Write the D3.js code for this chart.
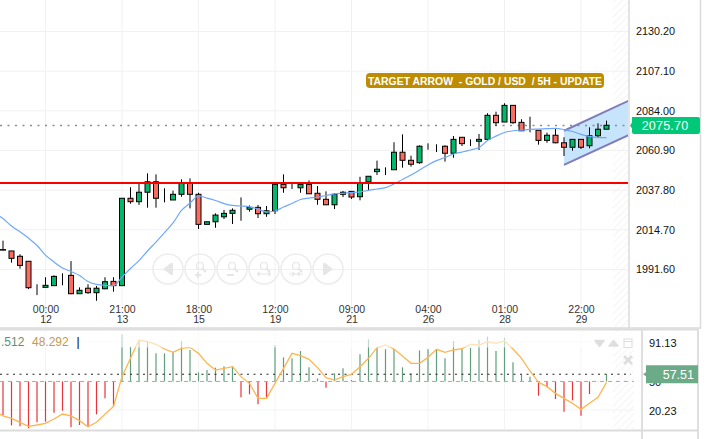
<!DOCTYPE html>
<html>
<head>
<meta charset="utf-8">
<script src="https://cdn.jsdelivr.net/npm/d3@7"></script>
<style>
    html, body { margin: 0; padding: 0; background: #fff; overflow: hidden; }
    svg { display: block; font-family: "Liberation Sans", Arial, sans-serif; }
    .domain, .tick line { display: none; }
</style>
</head>
<body>
<div id="chart"></div>
<script>
// candles, one entry per 5H bar
const opens = [2002.6,2002.1,1999.0,1996.1,1981.9,1980.9,1981.9,1988.1,1987.9,1977.2,1980.4,1977.8,1980.1,1984.4,1981.9,2032.8,2030.8,2036.3,2042.4,2032.4,2031.8,2035.1,2041.5,2035.1,2017.6,2019.1,2022.0,2024.0,2026.4,2026.4,2027.5,2023.8,2025.5,2040.9,2038.9,2038.9,2040.9,2035.7,2032.2,2029.0,2035.1,2036.8,2033.7,2042.3,2048.3,2049.7,2049.4,2059.6,2054.9,2053.5,2063.6,2063.6,2063.1,2059.0,2068.3,2064.8,2066.0,2067.1,2081.1,2077.2,2086.9,2077.0,2072.5,2072.4,2066.5,2069.5,2065.1,2062.5,2067.1,2063.4,2069.2,2073.0];
const highs = [2008.1,2002.1,2000.2,1996.1,1982.7,1986.8,1987.9,1989.1,1996.2,1980.9,1982.7,1981.7,1986.8,1986.8,2032.8,2039.2,2041.5,2047.3,2046.7,2038.6,2037.2,2043.8,2044.4,2036.0,2019.1,2024.0,2026.0,2026.9,2033.3,2028.6,2028.9,2028.3,2040.9,2046.7,2041.5,2041.5,2043.2,2039.9,2036.8,2035.7,2037.0,2036.8,2045.3,2045.6,2054.7,2050.8,2065.4,2070.0,2057.6,2063.6,2064.8,2064.2,2063.6,2069.0,2068.3,2067.1,2070.2,2082.3,2083.2,2088.1,2086.9,2078.8,2080.3,2072.4,2071.0,2073.5,2068.3,2067.1,2067.1,2074.1,2076.4,2078.0];
const lows = [2002.6,1995.3,1991.8,1979.9,1976.4,1980.9,1981.9,1982.1,1976.9,1977.2,1977.2,1973.1,1979.8,1978.4,1981.9,2029.6,2028.9,2027.3,2027.3,2030.4,2031.8,2033.7,2026.9,2014.9,2017.6,2015.6,2020.7,2017.8,2019.7,2025.0,2021.3,2022.0,2023.6,2036.0,2038.2,2036.0,2035.4,2029.0,2029.0,2026.5,2033.5,2032.4,2031.6,2037.0,2046.3,2046.3,2049.4,2050.6,2051.2,2052.9,2061.1,2059.7,2054.1,2056.4,2063.2,2063.2,2060.9,2066.1,2075.0,2077.2,2076.2,2072.1,2071.2,2064.0,2065.1,2064.8,2057.4,2060.5,2061.5,2061.9,2068.1,2073.0];
const closes = [2002.9,1997.8,1993.7,1980.7,1981.9,1982.1,1987.3,1988.1,1977.2,1979.2,1977.8,1980.4,1984.2,1981.9,2032.8,2030.8,2036.3,2042.4,2032.8,2032.4,2035.1,2041.5,2035.1,2017.6,2019.1,2023.0,2024.0,2025.8,2026.4,2027.5,2023.8,2025.5,2040.9,2038.9,2038.9,2040.9,2035.4,2032.2,2029.0,2035.1,2036.3,2033.5,2041.5,2045.6,2049.7,2049.7,2059.6,2054.9,2052.6,2063.1,2063.6,2063.6,2059.0,2067.1,2064.6,2064.8,2067.1,2081.1,2076.8,2086.9,2076.8,2072.1,2072.5,2066.5,2069.5,2065.1,2062.5,2067.1,2062.5,2069.2,2073.0,2075.3];
// moving average, first value belongs to the bar just left of the window
const maValues = [2024.2,2021.0,2016.6,2013.3,2009.6,2005.3,1999.7,1995.7,1992.2,1990.1,1987.8,1984.3,1982.6,1982.1,1981.9,1986.9,1991.9,1996.5,2002.1,2007.3,2012.8,2018.4,2025.7,2030.0,2034.1,2032.9,2031.5,2029.7,2028.6,2028.3,2027.8,2026.5,2024.8,2025.4,2027.7,2029.7,2032.1,2032.9,2033.4,2034.4,2035.3,2035.7,2036.1,2036.5,2037.4,2038.2,2039.0,2041.1,2043.7,2046.3,2049.2,2052.2,2054.7,2056.5,2058.6,2059.7,2060.9,2062.3,2066.4,2069.0,2071.1,2072.1,2072.5,2072.9,2073.1,2073.3,2073.5,2072.8,2071.7,2070.0,2068.8,2068.1,2068.1];
// lower panel
const histValues = [15.0,4.2,3.2,1.1,7.4,8.0,17.4,19.5,2.2,4.6,2.8,15.7,32.4,24.0,99.1,86.3,93.2,91.5,79.3,79.3,81.0,92.2,82.8,59.5,61.9,64.4,65.8,65.8,33.4,36.6,26.1,33.1,88.0,75.1,74.1,81.7,64.7,53.2,43.5,58.5,63.7,51.5,78.3,93.9,85.2,83.5,83.8,64.7,58.5,82.4,83.5,82.8,74.1,92.2,84.5,85.2,93.2,96.7,81.7,95.7,69.9,56.7,55.0,35.2,43.9,31.7,18.5,30.3,14.3,36.9,49.8,57.51];
const signalValues = [19.2,14.0,11.5,7.4,3.2,4.6,6.3,10.8,16.0,14.0,9.1,2.8,7.4,15.7,24.0,55.0,74.1,93.2,91.5,88.7,83.8,80.4,84.5,85.6,79.3,68.9,61.9,63.7,65.4,55.0,48.0,32.4,32.4,48.0,63.7,79.3,76.9,73.1,64.4,53.9,51.5,55.0,57.4,65.4,74.1,85.2,88.0,83.8,76.5,68.9,68.9,75.1,83.5,80.4,82.8,84.2,88.7,88.0,91.5,89.7,92.2,83.8,74.1,60.9,49.1,44.6,37.6,32.4,27.2,20.9,27.2,33.4,49.1];

const priceTicks = [2130.20,2107.10,2084.00,2060.90,2037.80,2014.70,1991.60];
const lowerTicks = [91.13,50,20.23];
const tickBars = [5,14,23,32,41,50,59,68];
const tickHours = ["00:00","21:00","18:00","12:00","09:00","04:00","01:00","22:00"];
const tickDays = ["12","13","15","19","21","26","28","29"];
const supportPrice = 2041.7;
const lastLinePrice = 2075.2;
const lastPriceLabel = "2075.70";
const lastLower = 57.51;
// channel drawn on the chart: bar index + price
const channelBars = [66,73.6];
const channelUpper = [2072.1,2089.6];
const channelLower = [2052.2,2069.6];

const width = 727, height = 439;
const svg = d3.select("#chart").append("svg").attr("width", width).attr("height", height);

const x = d3.scaleLinear().domain([0,71]).range([3,606.5]);
const y = d3.scaleLinear().domain([2130.2,1991.6]).range([31,269]);
const yLow = d3.scaleLinear().domain([91.13,20.23]).range([342,410]);

const defs = svg.append("defs");
const hatch = defs.append("pattern").attr("id","hatch").attr("width",5).attr("height",5)
    .attr("patternUnits","userSpaceOnUse").attr("patternTransform","rotate(45)");
hatch.append("line").attr("x1",0).attr("y1",0).attr("x2",0).attr("y2",5).attr("stroke","#f5f5f5").attr("stroke-width",2);
defs.append("clipPath").attr("id","topClip").append("rect").attr("width",628).attr("height",327);
defs.append("clipPath").attr("id","lowClip").append("rect").attr("y",330).attr("width",634).attr("height",99);

const mainG = svg.append("g").attr("clip-path","url(#topClip)");
const lowG = svg.append("g").attr("clip-path","url(#lowClip)");

// hatched future zone
mainG.append("rect").attr("x",613).attr("y",0).attr("width",16).attr("height",327).attr("fill","url(#hatch)");
lowG.append("rect").attr("x",613).attr("y",330).attr("width",21).attr("height",99).attr("fill","url(#hatch)");

// grid
mainG.selectAll(".gy").data(priceTicks).join("line")
    .attr("x1",0).attr("x2",628).attr("y1",d => y(d)+0.5).attr("y2",d => y(d)+0.5)
    .attr("stroke","#f1f1f1").attr("stroke-width",1);
mainG.selectAll(".gx").data(tickBars).join("line")
    .attr("x1",d => x(d)).attr("x2",d => x(d)).attr("y1",0).attr("y2",327)
    .attr("stroke","#f1f1f1").attr("stroke-width",1);
lowG.selectAll(".gx").data(tickBars).join("line")
    .attr("x1",d => x(d)).attr("x2",d => x(d)).attr("y1",330).attr("y2",429)
    .attr("stroke","#f3f3f3").attr("stroke-width",1);
lowG.selectAll(".gy").data([91.13,20.23]).join("line")
    .attr("x1",0).attr("x2",634).attr("y1",d => yLow(d)).attr("y2",d => yLow(d))
    .attr("stroke","#f3f3f3").attr("stroke-width",1);

// channel
const channelPoly = [
    [x(channelBars[0]),y(channelUpper[0])],[x(channelBars[1]),y(channelUpper[1])],
    [x(channelBars[1]),y(channelLower[1])],[x(channelBars[0]),y(channelLower[0])]
];
mainG.append("polygon").attr("points",channelPoly.join(" ")).attr("fill","#c6e4fb");
[channelUpper,channelLower].forEach(edge => {
    mainG.append("line")
        .attr("x1",x(channelBars[0])).attr("y1",y(edge[0]))
        .attr("x2",x(channelBars[1])).attr("y2",y(edge[1]))
        .attr("stroke","#7f7cbc").attr("stroke-width",2);
});

// nav buttons, faint, behind the candles
const navX = [168,200,232,264,296,328];
const nav = mainG.selectAll(".nav").data(navX).join("g").attr("transform",d => `translate(${d},269)`);
nav.append("circle").attr("r",15).attr("fill","none").attr("stroke","#ececec").attr("stroke-width",1.5);
const navInk = "#e6e6e6";
function glass(g) {
    g.append("circle").attr("cx",0).attr("cy",-3).attr("r",3.5).attr("fill","none").attr("stroke",navInk).attr("stroke-width",1.2);
    g.append("line").attr("x1",2.5).attr("y1",-0.5).attr("x2",6).attr("y2",3).attr("stroke",navInk).attr("stroke-width",2);
}
nav.each(function (d, i) {
    const g = d3.select(this);
    if (i === 0) g.append("path").attr("d","M-5,0L3,-6V6ZM3,-6h2V6h-2Z").attr("fill",navInk);
    if (i === 5) g.append("path").attr("d","M5,0L-3,-6V6ZM-3,-6h-2V6h2Z").attr("fill",navInk);
    if (i > 0 && i < 5) glass(g);
    if (i === 1) g.append("path").attr("d","M-5,6h6M-2,3v6").attr("stroke",navInk).attr("stroke-width",2).attr("fill","none");
    if (i === 2) g.append("path").attr("d","M-5,6h7").attr("stroke",navInk).attr("stroke-width",2);
    if (i === 3) g.append("path").attr("d","M-7,5h14M-7,5l3,-2M-7,5l3,2M7,5l-3,-2M7,5l-3,2").attr("stroke",navInk).attr("stroke-width",1.2);
    if (i === 4) g.append("path").attr("d","M-7,5h14M-1,5l-3,-2M-1,5l-3,2M1,5l3,-2M1,5l3,2").attr("stroke",navInk).attr("stroke-width",1.2);
});

// last price dotted line
mainG.append("line").attr("x1",0).attr("x2",628).attr("y1",y(lastLinePrice)).attr("y2",y(lastLinePrice))
    .attr("stroke","#8c8c8c").attr("stroke-width",1.5).attr("stroke-dasharray","2,5.5");

// candles
const bars = d3.range(opens.length);
mainG.selectAll(".wick").data(bars).join("line")
    .attr("x1",i => x(i)).attr("x2",i => x(i))
    .attr("y1",i => y(highs[i])).attr("y2",i => y(lows[i]))
    .attr("stroke","#000").attr("stroke-width",1);
mainG.selectAll(".body").data(bars).join("rect")
    .attr("x",i => x(i)-2.5).attr("width",5)
    .attr("y",i => y(Math.max(opens[i],closes[i])))
    .attr("height",i => Math.abs(y(opens[i])-y(closes[i])))
    .attr("fill",i => closes[i] >= opens[i] ? "#00b86b" : "#fb6c60")
    .attr("stroke","#000").attr("stroke-width",1);

// moving average
const maLine = d3.line().x((d,i) => x(i-1)).y(d => y(d)).curve(d3.curveMonotoneX);
mainG.append("path").datum(maValues).attr("d",maLine).attr("fill","none")
    .attr("stroke","#6ea8fe").attr("stroke-width",1.2);

// support line
mainG.append("line").attr("x1",0).attr("x2",628).attr("y1",y(supportPrice)).attr("y2",y(supportPrice))
    .attr("stroke","#f80000").attr("stroke-width",2);

// banner
svg.append("rect").attr("x",366).attr("y",73).attr("width",238).attr("height",15).attr("rx",4).attr("fill","#bd8c00");
svg.append("text").attr("x",368).attr("y",84.5).attr("fill","#fff").attr("font-size",11.5).attr("font-weight","bold")
    .attr("textLength",234).attr("lengthAdjust","spacingAndGlyphs").attr("xml:space","preserve")
    .text("TARGET ARROW  - GOLD / USD  / 5H - UPDATE");

// time axis
const timeAxis = d3.axisBottom(x).tickValues(tickBars).tickSize(0).tickFormat((d,i) => tickHours[i]);
const dayAxis = d3.axisBottom(x).tickValues(tickBars).tickSize(0).tickFormat((d,i) => tickDays[i]);
[[timeAxis,302.5],[dayAxis,313]].forEach(a => {
    const g = svg.append("g").attr("transform",`translate(0,${a[1]})`).call(a[0]);
    g.selectAll("text").attr("font-size",10.5).attr("font-family","Liberation Sans").attr("fill","#333");
});

// price axis
const priceAxis = d3.axisRight(y).tickValues(priceTicks).tickSize(0).tickFormat(d3.format(".2f"));
const pa = svg.append("g").attr("transform","translate(633,0.5)").call(priceAxis);
pa.selectAll("text").attr("font-size",10.8).attr("font-family","Liberation Sans").attr("fill","#111");

// panel frames
const frame = "#dcdcdc";
svg.append("path").attr("d","M0,328H700M629,0V328M700.5,0V329").attr("fill","none").attr("stroke",frame).attr("stroke-width",1.5);
svg.append("path").attr("d","M0,329.5H698M642,329V439M698,329V439M0,430.5H698").attr("fill","none").attr("stroke",frame).attr("stroke-width",1.8);

// last price tag
const lastY = y(lastLinePrice);
svg.append("path").attr("d",`M632,${lastY-8.5}H698a2,2 0 0 1 2,2V${lastY+6.5}a2,2 0 0 1 -2,2H634a2,2 0 0 1 -2,-2V${lastY+3}L630,${lastY}L632,${lastY-3}Z`).attr("fill","#00c878");
svg.append("text").attr("x",665).attr("y",lastY+4.5).attr("text-anchor","middle").attr("fill","#fff")
    .attr("font-size",12.5).attr("letter-spacing",0.2).text(lastPriceLabel);

// lower panel: histogram around 50
const mid = 50;
lowG.selectAll(".hist").data(histValues).join("line")
    .attr("x1",(d,i) => x(i)).attr("x2",(d,i) => x(i))
    .attr("y1",yLow(mid)).attr("y2",d => yLow(d))
    .attr("stroke",d => d >= mid ? "#5f9f7c" : "#e8353a").attr("stroke-width",1.2);
lowG.append("line").attr("x1",0).attr("x2",634).attr("y1",yLow(mid)).attr("y2",yLow(mid))
    .attr("stroke","#a8a8a8").attr("stroke-width",1).attr("stroke-dasharray","4,4");
lowG.append("line").attr("x1",0).attr("x2",631).attr("y1",yLow(lastLower)).attr("y2",yLow(lastLower))
    .attr("stroke","#222").attr("stroke-width",1).attr("stroke-dasharray","2,4.5");
const signalLine = d3.line().x((d,i) => x(i-1)).y(d => yLow(d));
lowG.append("path").datum(signalValues).attr("d",signalLine).attr("fill","none")
    .attr("stroke","#ffb54d").attr("stroke-width",1.3);
// pale band over the top of the lower panel
lowG.append("rect").attr("x",0).attr("y",330).attr("width",634).attr("height",17.5).attr("fill","#fff").attr("opacity",0.6);

// lower panel legend
svg.append("text").attr("x",1).attr("y",346).attr("font-size",12).attr("fill","#5f8f77").text(".512");
svg.append("text").attr("x",32).attr("y",346).attr("font-size",12).attr("fill","#c49a4d").text("48.292");
svg.append("text").attr("x",76.5).attr("y",346).attr("font-size",12).attr("fill","#000").text("|");

// lower panel tool icons
const toolInk = "#dedede";
svg.append("path").attr("d","M595,340.5h9l-4.5,6Z").attr("fill",toolInk).attr("stroke",toolInk).attr("stroke-width",1.5).attr("stroke-linejoin","round");
svg.append("path").attr("d","M609,346l4.5,-5.5l4.5,5.5Z").attr("fill",toolInk).attr("stroke",toolInk).attr("stroke-width",1.5).attr("stroke-linejoin","round");
svg.append("rect").attr("x",624).attr("y",339).attr("width",8).attr("height",8.5).attr("fill","none").attr("stroke",toolInk).attr("stroke-width",1);
svg.append("line").attr("x1",624).attr("x2",632).attr("y1",341.5).attr("y2",341.5).attr("stroke",toolInk);
svg.append("path").attr("d","M624,356l8,8M632,356l-8,8").attr("stroke",toolInk).attr("stroke-width",2.5);

// lower axis
const lowAxis = d3.axisRight(yLow).tickValues(lowerTicks).tickSize(0).tickFormat(d => d === 50 ? "50" : d3.format(".2f")(d));
const la = svg.append("g").attr("transform","translate(646,0.5)").call(lowAxis);
la.selectAll("text").attr("font-size",11).attr("font-family","Liberation Sans").attr("fill","#111");

// lower value tag
const tagY = yLow(lastLower);
svg.append("path").attr("d",`M646,${tagY-9}H698V${tagY+9}H646V${tagY+2}L643,${tagY}L646,${tagY-2}Z`).attr("fill","#6cab87");
svg.append("text").attr("x",694).attr("y",tagY+4.5).attr("text-anchor","end").attr("fill","#fff")
    .attr("font-size",12.5).text(lastLower.toFixed(2));
</script>
</body>
</html>
